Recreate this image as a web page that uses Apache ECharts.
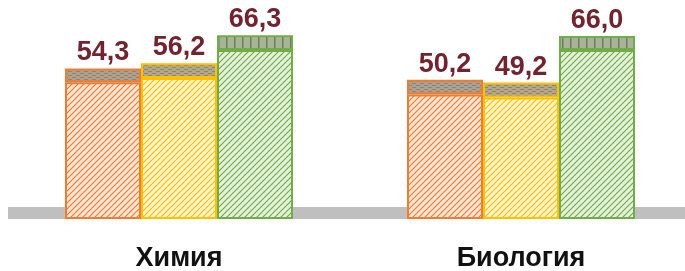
<!DOCTYPE html>
<html>
<head>
<meta charset="utf-8">
<script src="https://cdn.jsdelivr.net/npm/echarts@6/dist/echarts.min.js"></script>
<style>
  html, body { margin: 0; padding: 0; background: #fff; }
  #chart { width: 685px; height: 271px; }
</style>
</head>
<body>
<div id="chart"></div>
<script>
// subjects and results
const categories = ['Химия', 'Биология'];
const seriesNames = ['orange', 'yellow', 'green'];
const valuesOrange = [54.3, 50.2];
const valuesYellow = [56.2, 49.2];
const valuesGreen = [66.3, 66.0];
// height of the grey band on top of each bar (estimated)
const bandOrange = [5.0, 5.3];
const bandYellow = [5.4, 5.4];
const bandGreen = [5.4, 5.1];

const colors = ['#ed7d31', '#ffc000', '#70ad47'];
const tints = ['#fde6d6', '#fff4cc', '#e6f2dc'];
const bandFill = ['#ada08f', '#b3a78a', '#a7b497'];
const labelColor = '#732330';
const fontFam = '"Liberation Sans", Arial, sans-serif';

function stripes(bg, fg) {
    const c = document.createElement('canvas');
    c.width = 6; c.height = 6;
    const ctx = c.getContext('2d');
    ctx.fillStyle = bg;
    ctx.fillRect(0, 0, 6, 6);
    ctx.strokeStyle = fg;
    ctx.lineWidth = 1.2;
    ctx.beginPath();
    ctx.moveTo(-1, 7); ctx.lineTo(7, -1);
    ctx.moveTo(-4, 4); ctx.lineTo(4, -4);
    ctx.moveTo(2, 10); ctx.lineTo(10, 2);
    ctx.stroke();
    return c;
}

function bandPattern(bg, fg, vertical) {
    const c = document.createElement('canvas');
    c.width = 8; c.height = 4;
    const ctx = c.getContext('2d');
    ctx.fillStyle = bg;
    ctx.fillRect(0, 0, 8, 4);
    ctx.fillStyle = fg;
    if (vertical) {
        ctx.fillRect(2, 0, 1.5, 4);
    } else {
        ctx.fillRect(0, 1, 4, 1);
        ctx.fillRect(4, 3, 4, 1);
    }
    return c;
}

const allValues = [valuesOrange, valuesYellow, valuesGreen];
const allBands = [bandOrange, bandYellow, bandGreen];

const series = [];
seriesNames.forEach((name, i) => {
    const vals = allValues[i];
    const bands = allBands[i];
    series.push({
        name: name,
        type: 'bar',
        stack: name,
        barWidth: 76,
        barGap: '0%',
        data: vals.map((v, k) => v - bands[k]),
        itemStyle: {
            color: { image: stripes(tints[i], colors[i]), repeat: 'repeat' },
            borderColor: colors[i],
            borderWidth: 2
        },
        silent: true
    });
    series.push({
        name: name + '-band',
        type: 'bar',
        stack: name,
        barWidth: 76,
        barGap: '0%',
        data: bands,
        itemStyle: {
            color: { image: bandPattern(bandFill[i], i === 2 ? '#6f7d62' : '#8f8373', i === 2), repeat: 'repeat' },
            borderColor: colors[i],
            borderWidth: 2
        },
        label: {
            show: true,
            position: 'top',
            distance: 2,
            color: labelColor,
            fontFamily: fontFam,
            fontWeight: 'bold',
            fontSize: 27,
            formatter: p => vals[p.dataIndex].toFixed(1).replace('.', ',')
        },
        silent: true
    });
});

const chart = echarts.init(document.getElementById('chart'));
chart.setOption({
    animation: false,
    backgroundColor: '#ffffff',
    grid: { left: 8, right: -7, top: 11, bottom: 52, outerBoundsMode: 'none', containLabel: false },
    xAxis: {
        type: 'category',
        data: categories,
        axisLine: { show: false },
        axisTick: { show: false },
        axisLabel: {
            margin: 26,
            color: '#111',
            fontFamily: fontFam,
            fontWeight: 'bold',
            fontSize: 27
        }
    },
    yAxis: {
        type: 'value',
        min: 0,
        max: 75,
        show: false
    },
    graphic: [{
        type: 'rect',
        z: -10,
        shape: { x: 8, y: 207, width: 677, height: 12 },
        style: { fill: '#bfbfbf' }
    }],
    series: series
});
</script>
</body>
</html>
